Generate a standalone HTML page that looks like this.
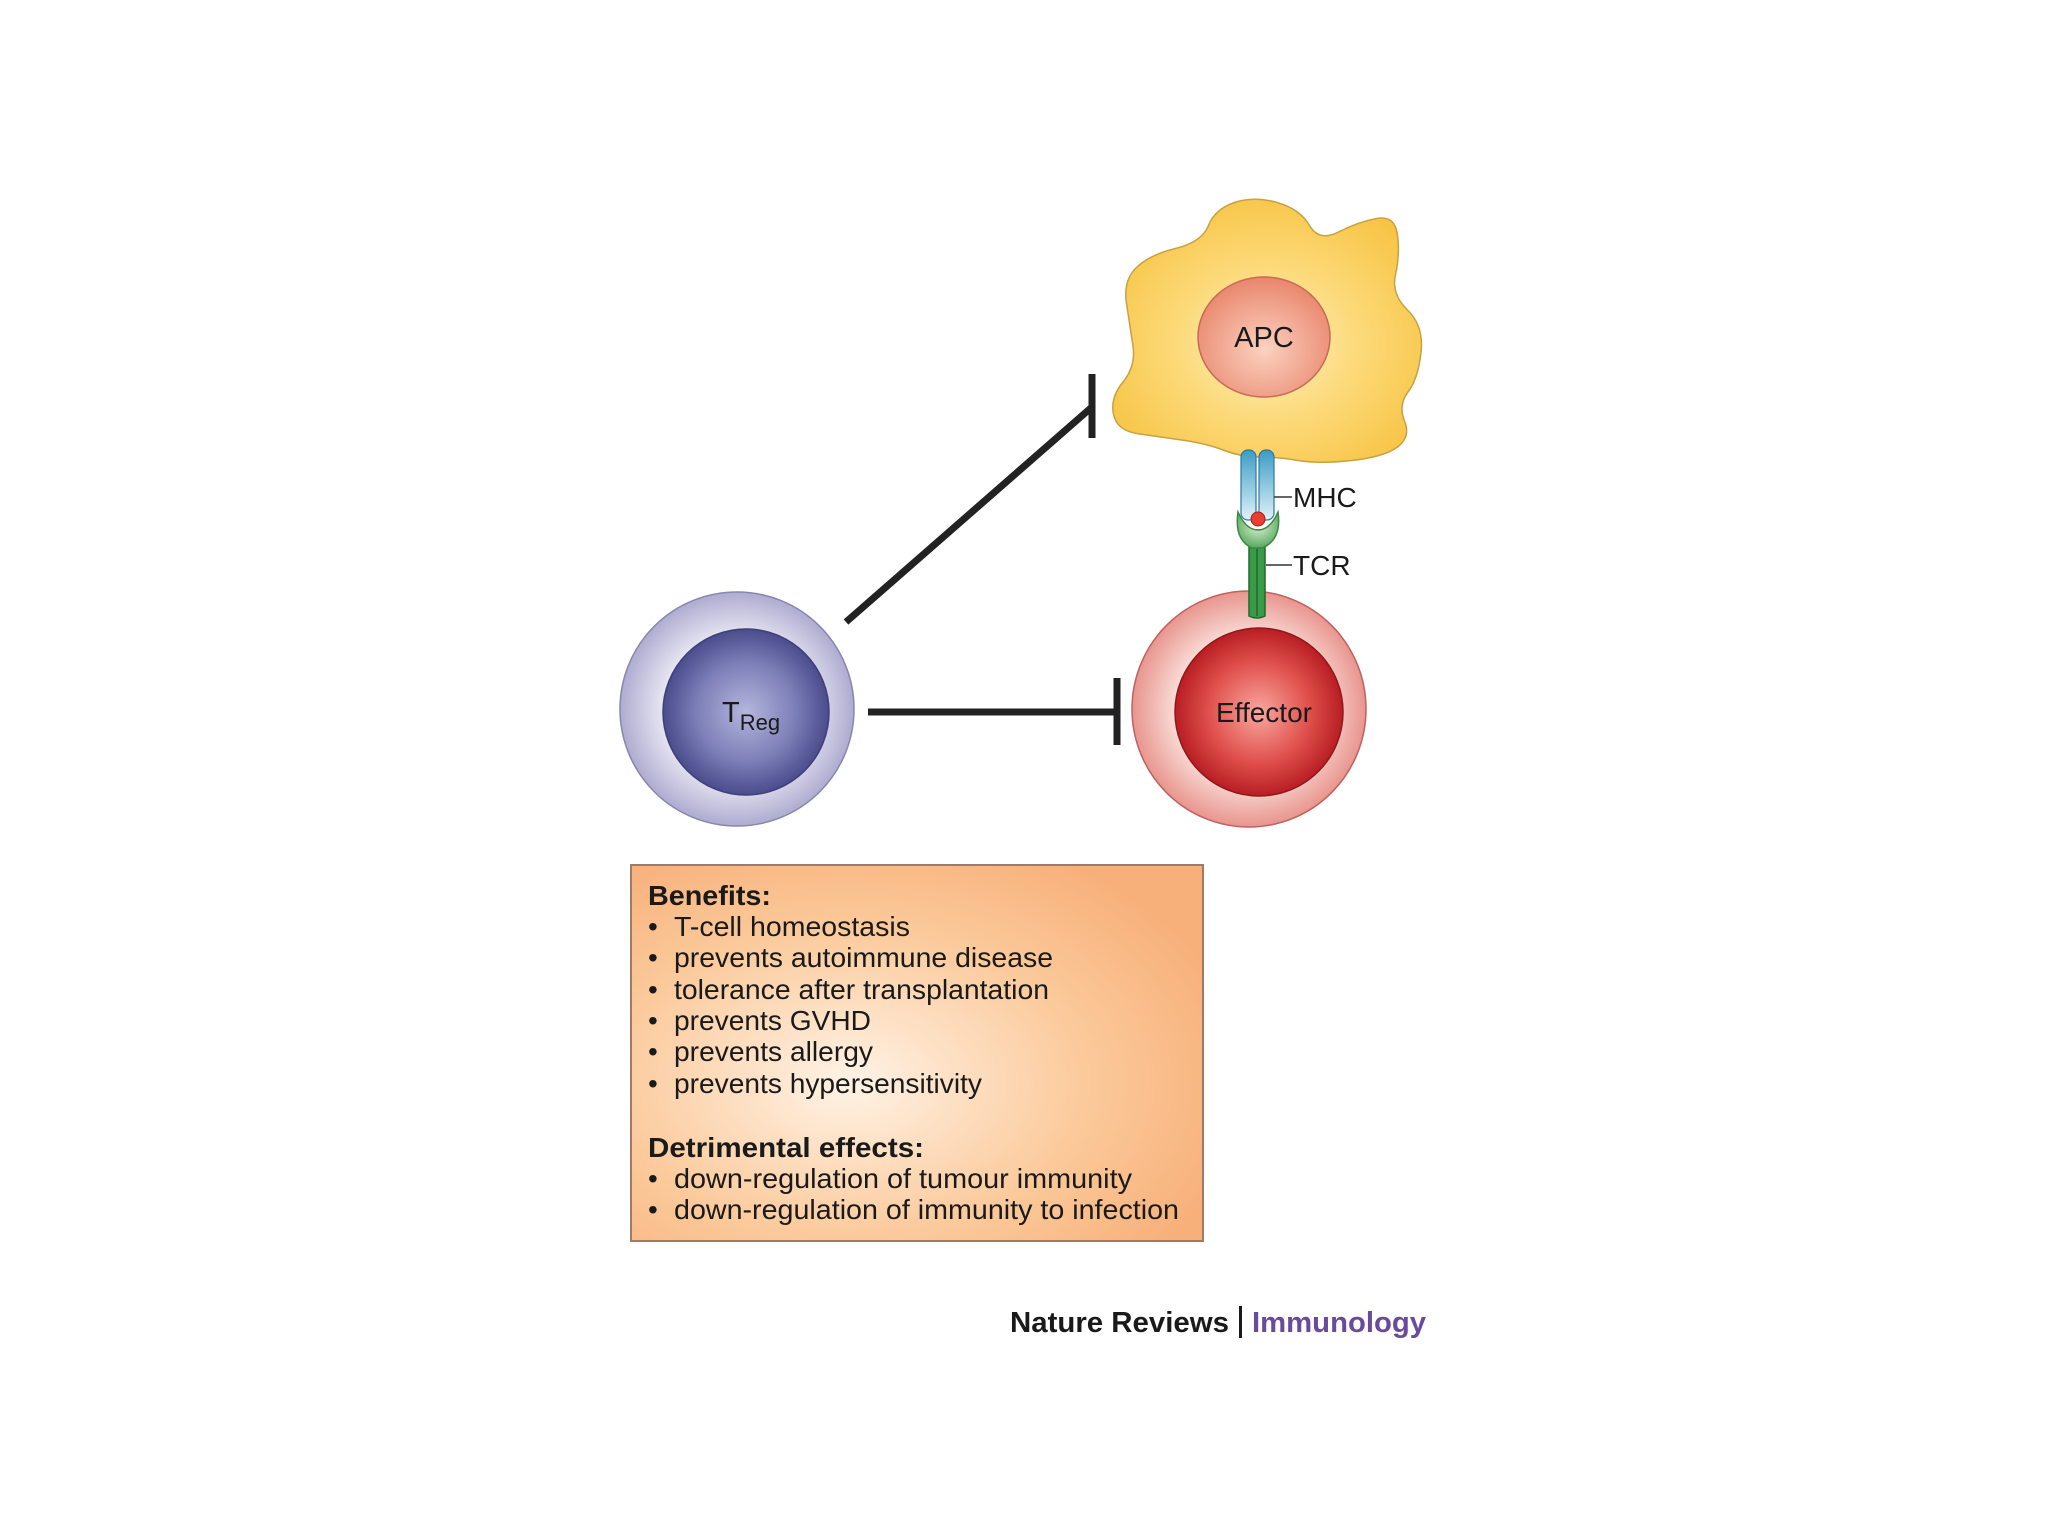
<!DOCTYPE html>
<html><head><meta charset="utf-8"><style>
html,body{margin:0;padding:0;background:#fff;}
svg{display:block;}
text{font-family:"Liberation Sans",sans-serif;fill:#1a1a1a;}
</style></head><body>
<svg id="s" width="2048" height="1536" viewBox="0 0 2048 1536" xmlns="http://www.w3.org/2000/svg">
<defs>
<radialGradient id="gApc" cx="0.5" cy="0.55" r="0.6"><stop offset="0" stop-color="#fff1c4"/><stop offset="0.5" stop-color="#fcd978"/><stop offset="1" stop-color="#f7c444"/></radialGradient>
<radialGradient id="gNuc" cx="0.5" cy="0.6" r="0.6"><stop offset="0" stop-color="#fbd2c0"/><stop offset="1" stop-color="#e9866c"/></radialGradient>
<radialGradient id="gEffO" cx="0.5" cy="0.5" r="0.5"><stop offset="0.6" stop-color="#fbe1dc"/><stop offset="1" stop-color="#e8958e"/></radialGradient>
<radialGradient id="gEffI" cx="0.5" cy="0.5" r="0.5"><stop offset="0" stop-color="#f8a8a0"/><stop offset="0.6" stop-color="#e0504c"/><stop offset="1" stop-color="#b81e24"/></radialGradient>
<radialGradient id="gTO" cx="0.5" cy="0.5" r="0.5"><stop offset="0.6" stop-color="#ecebf5"/><stop offset="1" stop-color="#aeacd0"/></radialGradient>
<radialGradient id="gTI" cx="0.5" cy="0.5" r="0.5"><stop offset="0" stop-color="#b4b6dc"/><stop offset="0.6" stop-color="#7c7eb8"/><stop offset="1" stop-color="#4a4c8c"/></radialGradient>
<radialGradient id="gBox" cx="0.38" cy="0.58" r="0.7"><stop offset="0" stop-color="#fff3e6"/><stop offset="0.6" stop-color="#fbc99a"/><stop offset="1" stop-color="#f7b07a"/></radialGradient>
<linearGradient id="gMhc" x1="0" y1="0" x2="0" y2="1"><stop offset="0" stop-color="#3c9cc4"/><stop offset="1" stop-color="#e0f2fa"/></linearGradient>
<radialGradient id="gTcr" cx="0.5" cy="0.4" r="0.6"><stop offset="0" stop-color="#d8f0d0"/><stop offset="1" stop-color="#5aa860"/></radialGradient>
</defs>
<path id="apc" fill="url(#gApc)" stroke="#caa040" stroke-width="1.5"/>
<ellipse cx="1264" cy="337" rx="66" ry="60" fill="url(#gNuc)" stroke="#c86a55" stroke-width="1.5"/>
<text x="1264" y="347" font-size="29" text-anchor="middle">APC</text>

<!-- TReg -->
<ellipse cx="737" cy="709" rx="117" ry="117" fill="url(#gTO)" stroke="#8886b0" stroke-width="1.5"/>
<circle cx="746" cy="712" r="83" fill="url(#gTI)" stroke="#3e407a" stroke-width="1.5"/>
<text x="722" y="722" font-size="29">T<tspan font-size="22" dy="8">Reg</tspan></text>

<!-- Effector -->
<ellipse cx="1249" cy="709" rx="117" ry="118" fill="url(#gEffO)" stroke="#c06060" stroke-width="1.5"/>
<circle cx="1259" cy="712" r="84" fill="url(#gEffI)" stroke="#901818" stroke-width="1.5"/>
<text x="1264" y="722" font-size="28" text-anchor="middle">Effector</text>

<!-- MHC / TCR -->
<path d="M1249 530 L1249 616 Q1257 620 1265 616 L1265 530 Z" fill="#3a9a48" stroke="#1f6a2c" stroke-width="1.5"/>
<line x1="1257" y1="532" x2="1257" y2="616" stroke="#1f6a2c" stroke-width="1.5"/>
<path d="M1238 512 Q1234 540 1252 548 L1262 548 Q1282 540 1278 512 Q1270 530 1258 530 Q1246 530 1238 512 Z" fill="url(#gTcr)" stroke="#3a8a40" stroke-width="1.5"/>
<rect x="1241" y="450" width="15" height="70" rx="7" fill="url(#gMhc)" stroke="#2a7aa0" stroke-width="1.2"/>
<rect x="1259" y="450" width="15" height="70" rx="7" fill="url(#gMhc)" stroke="#2a7aa0" stroke-width="1.2"/>
<circle cx="1258" cy="519" r="7" fill="#e84030" stroke="#a02010" stroke-width="1"/>
<line x1="1274" y1="497" x2="1292" y2="497" stroke="#333" stroke-width="1.5"/>
<line x1="1266" y1="565" x2="1292" y2="565" stroke="#333" stroke-width="1.5"/>
<text x="1293" y="507" font-size="28">MHC</text>
<text x="1293" y="575" font-size="28">TCR</text>

<!-- Inhibition lines -->
<line x1="846" y1="622" x2="1092" y2="407" stroke="#222" stroke-width="7"/>
<line x1="1092" y1="374" x2="1092" y2="438" stroke="#222" stroke-width="7"/>
<line x1="868" y1="712" x2="1117" y2="712" stroke="#222" stroke-width="7"/>
<line x1="1117" y1="678" x2="1117" y2="745" stroke="#222" stroke-width="7"/>

<!-- Box -->
<rect x="631" y="865" width="572" height="376" fill="url(#gBox)" stroke="#a07a64" stroke-width="2"/>
<g font-size="28">
<text x="648" y="905" font-weight="bold" textLength="123" lengthAdjust="spacingAndGlyphs">Benefits:</text>
<g>
<text x="648" y="936">•</text><text x="674" y="936" textLength="236" lengthAdjust="spacingAndGlyphs">T-cell homeostasis</text>
<text x="648" y="967">•</text><text x="674" y="967" textLength="379" lengthAdjust="spacingAndGlyphs">prevents autoimmune disease</text>
<text x="648" y="999">•</text><text x="674" y="999" textLength="375" lengthAdjust="spacingAndGlyphs">tolerance after transplantation</text>
<text x="648" y="1030">•</text><text x="674" y="1030" textLength="197" lengthAdjust="spacingAndGlyphs">prevents GVHD</text>
<text x="648" y="1061">•</text><text x="674" y="1061" textLength="199" lengthAdjust="spacingAndGlyphs">prevents allergy</text>
<text x="648" y="1093">•</text><text x="674" y="1093" textLength="308" lengthAdjust="spacingAndGlyphs">prevents hypersensitivity</text>
</g>
<text x="648" y="1157" font-weight="bold" textLength="276" lengthAdjust="spacingAndGlyphs">Detrimental effects:</text>
<text x="648" y="1188">•</text><text x="674" y="1188" textLength="458" lengthAdjust="spacingAndGlyphs">down-regulation of tumour immunity</text>
<text x="648" y="1219">•</text><text x="674" y="1219" textLength="505" lengthAdjust="spacingAndGlyphs">down-regulation of immunity to infection</text>
</g>

<!-- Footer -->
<text x="1010" y="1332" font-size="29" font-weight="bold" textLength="219" lengthAdjust="spacingAndGlyphs">Nature Reviews</text>
<rect x="1239" y="1306" width="3" height="32" fill="#1a1a1a"/>
<text x="1252" y="1332" font-size="29" font-weight="bold" style="fill:#6a4a9a" textLength="174" lengthAdjust="spacingAndGlyphs">Immunology</text>
</svg>
<script>
var p=[[1215,209],[1254,196],[1300,209],[1319,242],[1358,222],[1395,215],[1400,255],[1391,294],[1424,326],[1418,379],[1398,405],[1411,437],[1384,457],[1319,464],[1277,457],[1241,457],[1208,444],[1162,437],[1117,431],[1110,398],[1136,366],[1130,326],[1123,281],[1149,255],[1202,242]];
function m(a,b){return[(a[0]+b[0])/2,(a[1]+b[1])/2];}
var n=p.length,s=m(p[0],p[1]),d="M"+s[0]+" "+s[1];
for(var i=1;i<=n;i++){var c=p[i%n],e=m(c,p[(i+1)%n]);d+=" Q"+c[0]+" "+c[1]+" "+e[0]+" "+e[1];}
document.getElementById("apc").setAttribute("d",d+"Z");
</script>
</body></html>
